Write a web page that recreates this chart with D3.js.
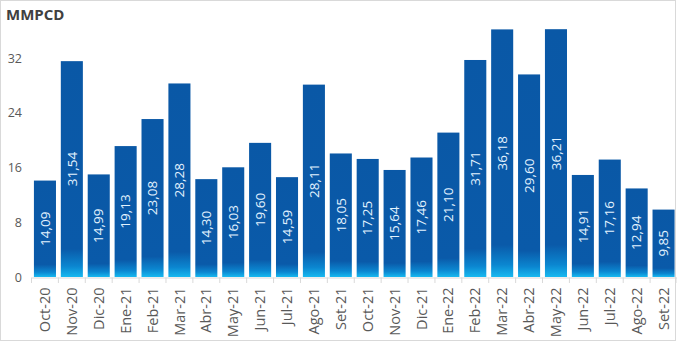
<!DOCTYPE html>
<html><head><meta charset="utf-8">
<script src="https://cdn.jsdelivr.net/npm/d3@7"></script>
<style>
html,body{margin:0;padding:0;background:#fff;}
svg{display:block;}
</style></head>
<body>
<svg id="chart" width="677" height="343"></svg>
<script>
const categories = ["Oct-20","Nov-20","Dic-20","Ene-21","Feb-21","Mar-21","Abr-21","May-21","Jun-21","Jul-21","Ago-21","Set-21","Oct-21","Nov-21","Dic-21","Ene-22","Feb-22","Mar-22","Abr-22","May-22","Jun-22","Jul-22","Ago-22","Set-22"];
const values = [14.09,31.54,14.99,19.13,23.08,28.28,14.30,16.03,19.60,14.59,28.11,18.05,17.25,15.64,17.46,21.10,31.71,36.18,29.60,36.21,14.91,17.16,12.94,9.85];
const yTicks = [0,8,16,24,32];
const title = "MMPCD";

const svg = d3.select("#chart");
const W = 677, H = 343;

// frame
svg.append("rect").attr("x",0.5).attr("y",0.5).attr("width",W-2).attr("height",H-3)
  .attr("fill","#fff").attr("stroke","#d9d9d9").attr("stroke-width",1);

const defs = svg.append("defs");
const grad = defs.append("linearGradient").attr("id","barGrad")
  .attr("x1",0).attr("y1",0).attr("x2",0).attr("y2",1);
grad.append("stop").attr("offset","0").attr("stop-color","#0a58a6");
grad.append("stop").attr("offset","0.87").attr("stop-color","#0a5aa9");
grad.append("stop").attr("offset","0.95").attr("stop-color","#0b86d0");
grad.append("stop").attr("offset","1").attr("stop-color","#17b9f0");

const x = d3.scaleBand().domain(categories).range([31.5, 677])
  .paddingInner(0.18).paddingOuter(0.09);
const y = d3.scaleLinear().domain([0,32]).range([277,58]);

// title
svg.append("text").attr("x",6).attr("y",20).text(title)
  .attr("font-family","'Open Sans', sans-serif").attr("font-weight","bold")
  .attr("font-size",15).attr("fill","#404040");

// y axis labels
const yAxis = d3.axisLeft(y).tickValues(yTicks).tickSize(0).tickPadding(0).tickFormat(d3.format("d"));
const yg = svg.append("g").attr("transform","translate(22,0)").call(yAxis);
yg.select(".domain").remove();
yg.selectAll("text").attr("font-family","'Open Sans', sans-serif").attr("font-size",12.5).attr("fill","#595959");

// x axis
const xAxis = d3.axisBottom(x).tickSize(0).tickPadding(0);
const xg = svg.append("g").attr("transform","translate(0,277.5)").call(xAxis);
xg.select(".domain").attr("stroke","#d9d9d9");
xg.selectAll(".tick text")
  .attr("transform","rotate(-90)")
  .attr("text-anchor","end")
  .attr("x",-10).attr("y",0).attr("dy","0.35em")
  .attr("font-family","'Open Sans', sans-serif").attr("font-size",14.5).attr("fill","#595959");
// category separator ticks
const bounds = categories.map(c => x(c) - x.step()*x.paddingInner()/2);
bounds.push(x(categories[categories.length-1]) + x.bandwidth() + x.step()*x.paddingInner()/2);
svg.append("g").selectAll("line").data(bounds).join("line")
  .attr("x1",d=>d).attr("x2",d=>d).attr("y1",277.5).attr("y2",283)
  .attr("stroke","#d9d9d9");

// bars
svg.append("g").selectAll("rect").data(values).join("rect")
  .attr("x",(d,i)=>x(categories[i]))
  .attr("y",d=>y(d))
  .attr("width",x.bandwidth())
  .attr("height",d=>y(0)-y(d))
  .attr("fill","url(#barGrad)");

// value labels
const fmt = d => d.toFixed(2).replace(".",",");
svg.append("g").selectAll("text").data(values).join("text")
  .attr("transform",(d,i)=>`translate(${x(categories[i])+x.bandwidth()/2},${(y(d)+y(0))/2}) rotate(-90)`)
  .attr("text-anchor","middle").attr("dy","0.35em")
  .attr("font-family","'Open Sans', sans-serif").attr("font-size",13.5)
  .attr("fill","#e3f3ff")
  .text(fmt);
</script>
</body></html>
